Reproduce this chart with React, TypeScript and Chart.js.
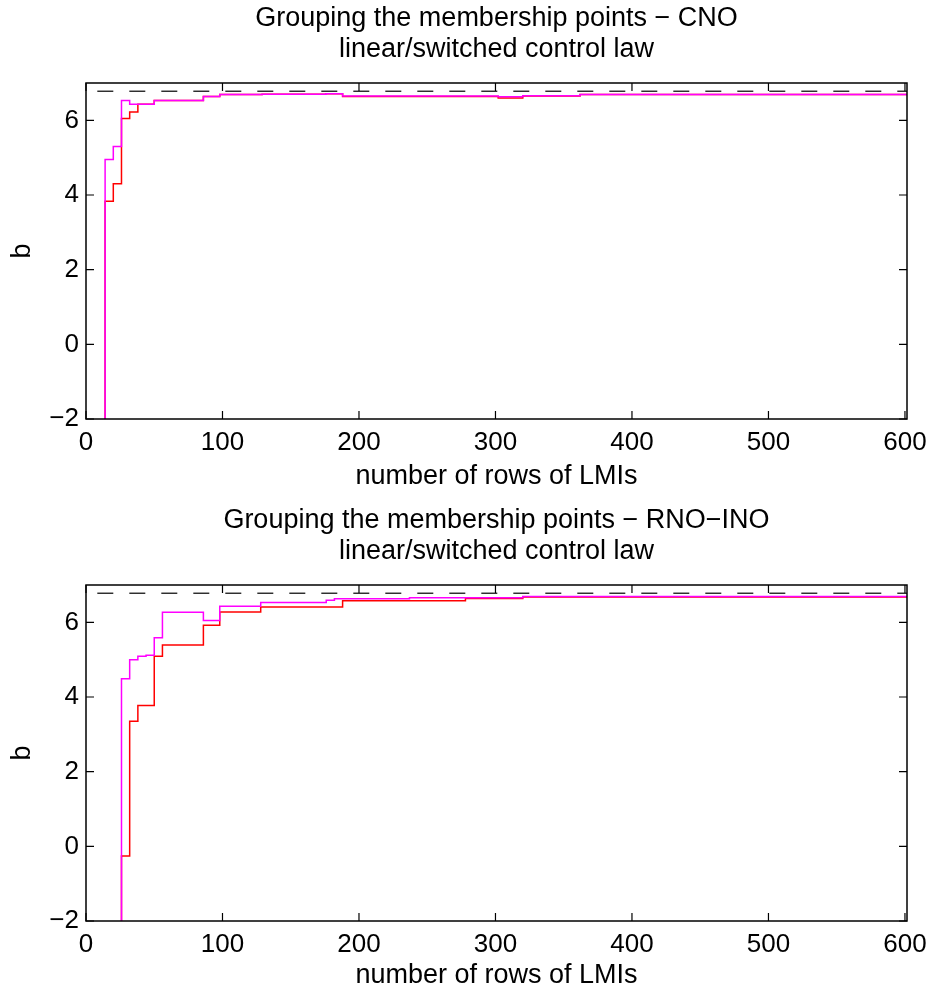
import React, { useEffect, useRef } from 'react';
import { Chart, registerables } from 'chart.js';

Chart.register(...registerables);

// ---------- data ----------
const X_MIN = 0;
const X_MAX = 601.5;
const Y_MIN = -2;
const Y_MAX = 7;
const X_TICKS = [0, 100, 200, 300, 400, 500, 600];
const Y_TICKS = [-2, 0, 2, 4, 6];
const BOUND_LEVEL = 6.78;

const X_LABEL = 'number of rows of LMIs';
const Y_LABEL = 'b';
const CNO_TITLE = ['Grouping the membership points \u2212 CNO', 'linear/switched control law'];
const RNO_TITLE = ['Grouping the membership points \u2212 RNO\u2212INO', 'linear/switched control law'];

// CNO panel (top)
const CNO_MAGENTA_X = [14, 14, 20, 26, 32, 50, 86, 98, 129, 176, 188, 302, 320, 362, 601.5];
const CNO_MAGENTA_Y = [-3, 4.95, 5.3, 6.53, 6.43, 6.53, 6.64, 6.69, 6.7, 6.71, 6.65, 6.63, 6.66, 6.69, 6.69];
const CNO_RED_X = [14, 14, 20, 26, 32, 38, 50, 86, 98, 129, 176, 188, 302, 320, 362, 601.5];
const CNO_RED_Y = [-3, 3.83, 4.3, 6.05, 6.22, 6.43, 6.53, 6.64, 6.69, 6.7, 6.71, 6.64, 6.6, 6.65, 6.69, 6.69];

// RNO-INO panel (bottom)
const RNO_MAGENTA_X = [26, 26, 32, 38, 44, 50, 56, 86, 98, 128, 176, 182, 237, 320, 601.5];
const RNO_MAGENTA_Y = [-3, 4.49, 5.0, 5.09, 5.12, 5.59, 6.27, 6.05, 6.43, 6.53, 6.59, 6.63, 6.66, 6.69, 6.69];
const RNO_RED_X = [26, 26, 32, 38, 50, 56, 86, 98, 128, 188, 278, 320, 601.5];
const RNO_RED_Y = [-3, -0.26, 3.35, 3.77, 5.09, 5.39, 5.92, 6.28, 6.41, 6.58, 6.64, 6.68, 6.69];

// ---------- helpers ----------
const FONT_FAMILY = "'Liberation Sans', Arial, Helvetica, sans-serif";
const toPoints = (xs: number[], ys: number[]) => xs.map((x, i) => ({ x, y: ys[i] }));

const frameTicks = {
  id: 'frameTicks',
  afterDatasetsDraw(chart: any) {
    const { ctx, chartArea } = chart;
    const { left, right, top, bottom } = chartArea;
    const xs = chart.scales.x;
    const ys = chart.scales.y;
    const TL = 8;
    ctx.save();
    ctx.strokeStyle = '#000';
    ctx.lineWidth = 1.2;
    ctx.beginPath();
    xs.ticks.forEach((t: any) => {
      const px = xs.getPixelForValue(t.value);
      ctx.moveTo(px, bottom);
      ctx.lineTo(px, bottom - TL);
      ctx.moveTo(px, top);
      ctx.lineTo(px, top + TL);
    });
    ys.ticks.forEach((t: any) => {
      const py = ys.getPixelForValue(t.value);
      ctx.moveTo(left, py);
      ctx.lineTo(left + TL, py);
      ctx.moveTo(right, py);
      ctx.lineTo(right - TL, py);
    });
    ctx.stroke();
    ctx.lineWidth = 1.5;
    ctx.strokeRect(left, top, right - left, bottom - top);
    ctx.restore();
  },
};

type PanelProps = {
  title: string[];
  magX: number[];
  magY: number[];
  redX: number[];
  redY: number[];
  height: number;
  xAxisHeight: number;
  xTitlePad: number;
};

function Panel(p: PanelProps) {
  const ref = useRef<HTMLCanvasElement>(null);
  useEffect(() => {
    const chart = new Chart(ref.current as HTMLCanvasElement, {
      type: 'line',
      data: {
        datasets: [
          {
            data: [{ x: X_MIN, y: BOUND_LEVEL }, { x: X_MAX, y: BOUND_LEVEL }],
            borderColor: '#000',
            borderWidth: 1.2,
            borderDash: [16, 16],
            borderDashOffset: 20.7,
            pointRadius: 0,
            fill: false,
          },
          {
            data: toPoints(p.magX, p.magY),
            borderColor: '#ff00ff',
            borderWidth: 1.5,
            stepped: 'before',
            pointRadius: 0,
            fill: false,
          },
          {
            data: toPoints(p.redX, p.redY),
            borderColor: '#ff0000',
            borderWidth: 1.5,
            stepped: 'before',
            pointRadius: 0,
            fill: false,
          },
        ],
      } as any,
      options: {
        responsive: false,
        animation: false,
        devicePixelRatio: 1,
        layout: { padding: { left: 0, right: 23, top: 0, bottom: 0 } },
        plugins: {
          legend: { display: false },
          tooltip: { enabled: false },
          title: {
            display: true,
            text: p.title,
            color: '#000',
            fullSize: false,
            font: { size: 27, weight: 'normal', family: FONT_FAMILY, lineHeight: 1.15 },
            padding: { top: 3, bottom: 17.9 },
          },
        },
        scales: {
          x: {
            type: 'linear',
            min: X_MIN,
            max: X_MAX,
            afterBuildTicks: (s: any) => {
              s.ticks = X_TICKS.map((v) => ({ value: v }));
            },
            grid: { display: false, drawTicks: false },
            border: { display: false },
            ticks: {
              autoSkip: false,
              maxRotation: 0,
              padding: 8,
              color: '#000',
              font: { size: 26, family: FONT_FAMILY },
            },
            title: {
              display: true,
              text: X_LABEL,
              color: '#000',
              font: { size: 27, family: FONT_FAMILY, lineHeight: 1.2 },
              padding: { top: 0, bottom: p.xTitlePad },
            },
            afterFit: (s: any) => {
              s.height = p.xAxisHeight;
              s.paddingLeft = 0;
              s.paddingRight = 0;
            },
          },
          y: {
            type: 'linear',
            min: Y_MIN,
            max: Y_MAX,
            afterBuildTicks: (s: any) => {
              s.ticks = Y_TICKS.map((v) => ({ value: v }));
            },
            grid: { display: false, drawTicks: false },
            border: { display: false },
            ticks: {
              padding: 7,
              color: '#000',
              font: { size: 26, family: FONT_FAMILY },
              callback: (v: any) => String(v).replace('-', '\u2212'),
            },
            title: {
              display: true,
              text: Y_LABEL,
              color: '#000',
              font: { size: 27, family: FONT_FAMILY, lineHeight: 1.2 },
              padding: { top: 6, bottom: 0 },
            },
            afterFit: (s: any) => {
              s.width = 86;
              s.paddingTop = 0;
              s.paddingBottom = 0;
            },
          },
        },
      } as any,
      plugins: [frameTicks],
    });
    return () => chart.destroy();
  }, []);
  return (
    <canvas
      ref={ref}
      width={930}
      height={p.height}
      style={{ display: 'block', width: 930, height: p.height }}
    />
  );
}

export default function App() {
  return (
    <div style={{ position: 'absolute', left: 0, top: 0, width: 930, height: 992, background: '#fff' }}>
      <Panel
        title={CNO_TITLE}
        magX={CNO_MAGENTA_X}
        magY={CNO_MAGENTA_Y}
        redX={CNO_RED_X}
        redY={CNO_RED_Y}
        height={502}
        xAxisHeight={83}
        xTitlePad={9}
      />
      <Panel
        title={RNO_TITLE}
        magX={RNO_MAGENTA_X}
        magY={RNO_MAGENTA_Y}
        redX={RNO_RED_X}
        redY={RNO_RED_Y}
        height={490}
        xAxisHeight={71}
        xTitlePad={0}
      />
    </div>
  );
}
